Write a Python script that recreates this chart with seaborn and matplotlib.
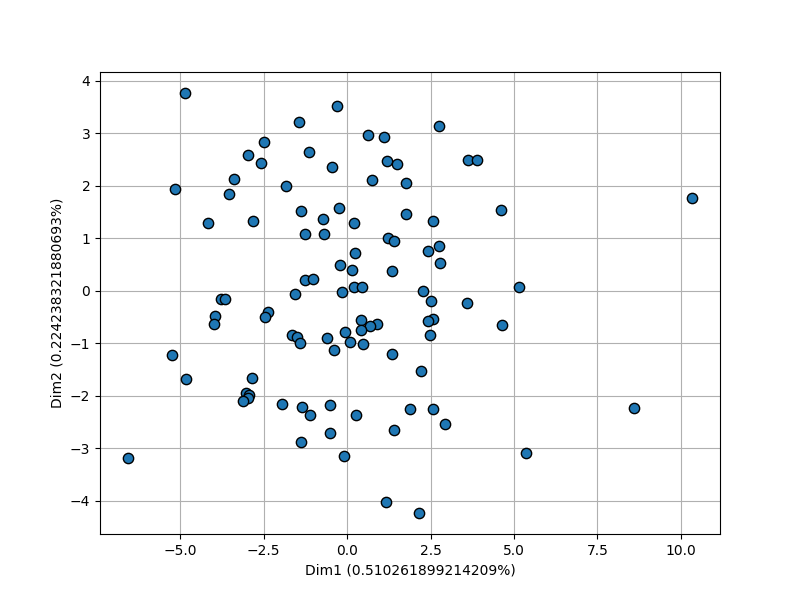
import matplotlib
matplotlib.use("Agg")
import matplotlib.pyplot as plt
import seaborn as sns
import pandas as pd

# PCA coordinates
dim1 = [-4.85, -0.30, -1.44, 2.75, 0.63, 1.11, -2.49, -1.14, -2.96, 1.20,
        1.50, -2.57, -0.45, 3.62, 3.89, -3.38, 0.75, 1.77, -1.83, -5.15,
        -3.53, 10.33, 4.61, -1.38, -0.24, 1.77, -0.72, 2.57, -2.81, -4.16,
        0.21, -1.26, -0.69, 1.23, 1.41, 2.75, 2.43, 0.24, 2.78, -0.21,
        0.15, 1.35, -1.26, -1.02, 0.21, 0.45, 5.15, -0.15, 2.28, -1.56,
        -3.77, -3.65, 2.51, 3.59, -3.95, -2.37, -2.46, 0.42, 2.57, 2.43,
        -3.98, 0.90, 0.69, 4.64, 0.42, -0.06, 2.49, -1.65, -1.50, -0.60,
        0.09, 0.48, -1.41, -0.39, 1.35, -5.24, 2.22, -4.82, -2.84, -3.02,
        -2.93, -2.96, -3.11, -1.95, -0.51, -1.35, 8.59, 1.89, 2.57, -1.11,
        0.27, 2.93, 1.41, -0.51, -1.38, 5.36, -0.09, -6.56, 1.17, 2.16]
dim2 = [3.77, 3.52, 3.22, 3.14, 2.97, 2.93, 2.84, 2.65, 2.59, 2.48,
        2.42, 2.44, 2.36, 2.50, 2.50, 2.13, 2.11, 2.06, 2.00, 1.94,
        1.85, 1.77, 1.54, 1.52, 1.58, 1.47, 1.37, 1.33, 1.33, 1.30,
        1.30, 1.09, 1.09, 1.01, 0.95, 0.86, 0.76, 0.72, 0.53, 0.50,
        0.40, 0.38, 0.21, 0.23, 0.08, 0.08, 0.08, -0.02, 0.00, -0.06,
        -0.15, -0.15, -0.19, -0.23, -0.48, -0.40, -0.50, -0.55, -0.53, -0.57,
        -0.63, -0.63, -0.67, -0.65, -0.74, -0.78, -0.84, -0.84, -0.88, -0.90,
        -0.97, -1.01, -0.99, -1.12, -1.20, -1.22, -1.52, -1.68, -1.66, -1.94,
        -1.98, -2.04, -2.10, -2.15, -2.17, -2.21, -2.23, -2.25, -2.25, -2.36,
        -2.36, -2.53, -2.65, -2.70, -2.88, -3.09, -3.14, -3.18, -4.02, -4.23]

df = pd.DataFrame({"Dim1": dim1, "Dim2": dim2})

fig, ax = plt.subplots(figsize=(8, 6), dpi=100)
sns.scatterplot(data=df, x="Dim1", y="Dim2", s=55, color="#1f77b4",
                edgecolor="black", linewidth=1, ax=ax, zorder=3)
ax.grid(True, color="#b0b0b0", zorder=0)
ax.set_axisbelow(True)
ax.set_xlabel("Dim1 (0.510261899214209%)")
ax.set_ylabel("Dim2 (0.224238321880693%)")
fig.savefig("out.png")
